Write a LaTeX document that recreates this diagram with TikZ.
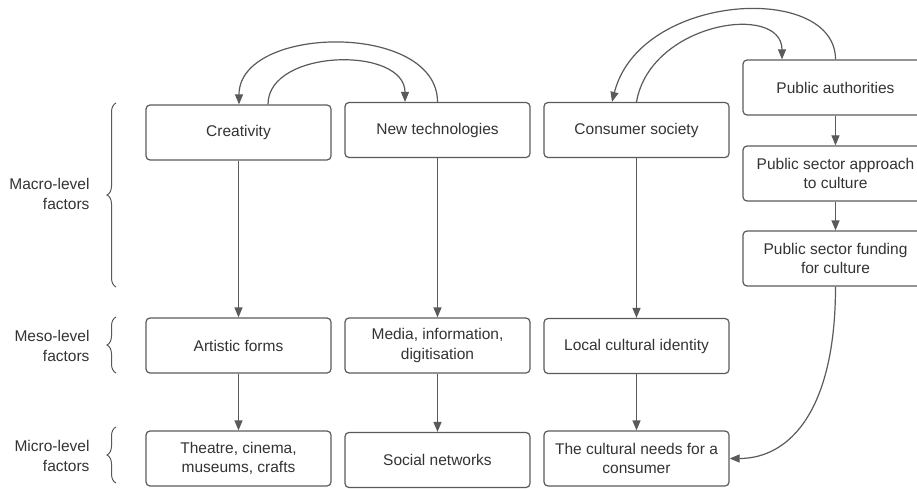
\documentclass[tikz,border=0pt]{standalone}
\usepackage{fontspec}
\setmainfont{Liberation Sans}
\usetikzlibrary{
   arrows.meta,
   decorations.pathreplacing
}

\definecolor{linegray}{HTML}{5A5A5A}
\definecolor{textgray}{HTML}{333333}

\begin{document}
\begin{tikzpicture}[
  x=1pt, y=1pt,
  every node/.style={font=\fontsize{15.5}{19.5}\selectfont, text=textgray},
  box/.style={draw=linegray, line width=1.2pt, rounded corners=4pt,
    minimum width=185pt, minimum height=55pt, align=center, inner sep=2pt},
  link/.style={draw=linegray, line width=1.2pt, -{Triangle[length=10pt,width=8pt]}},
  level/.style={align=right, anchor=east},
  bracket/.style={draw=linegray, line width=1pt, decorate,
    decoration={brace, amplitude=9pt}},
]

% canvas
\clip (0,0) rectangle (917,488);

% macro level
\node[box] (cre)  at (238.5,355.5) {Creativity};
\node[box] (tech) at (437.5,358)   {New technologies};
\node[box] (cons) at (636.5,358)   {Consumer society};
\node[box] (auth) at (835.5,400.5) {Public authorities};
\node[box] (appr) at (835.5,314.5) {Public sector approach\\to culture};
\node[box] (fund) at (835.5,229.5) {Public sector funding\\for culture};

% meso level
\node[box] (art)   at (238.5,142.5) {Artistic forms};
\node[box] (media) at (437.5,142.5) {Media, information,\\digitisation};
\node[box] (local) at (636.5,142)   {Local cultural identity};

% micro level
\node[box] (theatre) at (238.5,29.5) {Theatre, cinema,\\museums, crafts};
\node[box] (social)  at (437.5,28)   {Social networks};
\node[box] (needs)   at (636.5,29.5) {The cultural needs for a\\consumer};

% level labels and braces
\node[level] (macro) at (93,294) {Macro-level\\factors};
\node[level] (meso)  at (93,142) {Meso-level\\factors};
\node[level] (micro) at (93,32)  {Micro-level\\factors};
\draw[bracket] (116,201) -- (116,385);
\draw[bracket] (116,115) -- (116,171);
\draw[bracket] (116,5) -- (116,61);

% downward flow
\draw[link] (cre) -- (art);
\draw[link] (art) -- (theatre);
\draw[link] (tech) -- (media);
\draw[link] (media) -- (social);
\draw[link] (cons) -- (local);
\draw[link] (local) -- (needs);
\draw[link] (auth) -- (appr);
\draw[link] (appr) -- (fund);
\draw[link] (fund.south) .. controls +(0,-124) and +(60,0) .. (needs.east);

% feedback loops
\draw[link] ([xshift=29.5pt]cre.north) .. controls +(0,56) and +(0,56) .. ([xshift=-32.5pt]tech.north);
\draw[link] (tech.north) .. controls +(0,80) and +(0,80) .. ([xshift=0.5pt]cre.north);
\draw[link] (cons.north) .. controls +(14,80) and +(0,57) .. ([xshift=-53.5pt]auth.north);
\draw[link] (auth.north) .. controls +(0,77) and +(28,110) .. ([xshift=-24.5pt]cons.north);

\end{tikzpicture}
\end{document}
